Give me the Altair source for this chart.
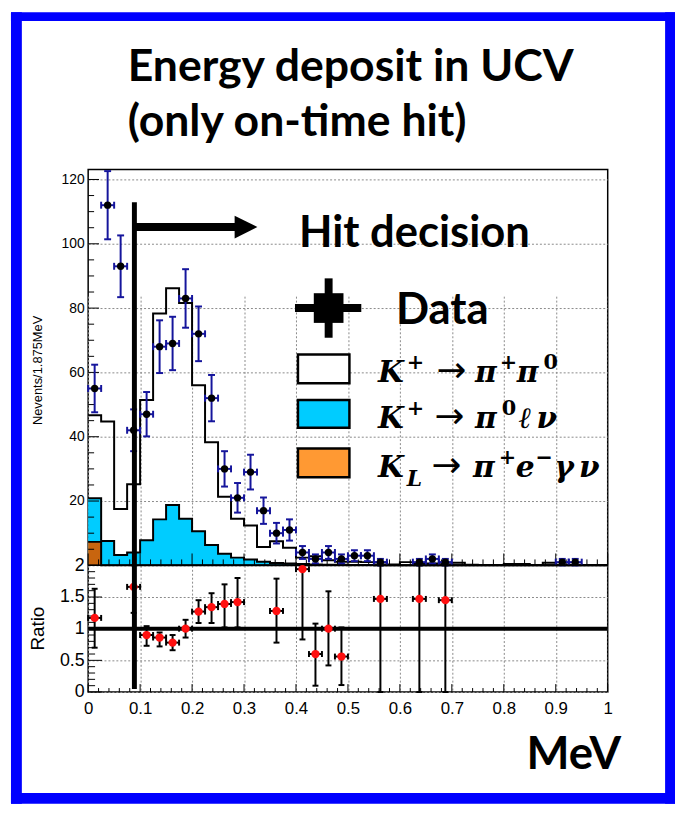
import altair as alt
import pandas as pd

# ---------------- data ----------------
N_BINS = 40
BIN_W = 0.025
bin_edges = [round(i * BIN_W, 4) for i in range(N_BINS + 1)]
bin_centers = [round((i + 0.5) * BIN_W, 4) for i in range(N_BINS)]

data_counts = [55, 112, 93, 42, 47, 68, 69, 83, 72, 52,
               30, 21, 29, 17, 10, 11, 4, 2, 4, 2,
               3, 3, 1, 0, 0, 1, 2, 1, 0, 0,
               0, 0, 0, 0, 0, 0, 1, 1, 0, 0]
data_errors = [7.4, 10.6, 9.6, 6.5, 6.9, 8.2, 8.3, 9.1, 8.5, 7.2,
               5.5, 4.6, 5.4, 4.1, 3.2, 3.3, 2.0, 1.4, 2.0, 1.4,
               1.7, 1.7, 1.0, 0, 0, 1.0, 1.4, 1.0, 0, 0,
               0, 0, 0, 0, 0, 0, 1.0, 1.0, 0, 0]

# stacked levels: total (K+ -> pi+ pi0 on top), cyan top (K+ -> pi0 l nu), orange (KL)
mc_total = [46.7, 44.7, 17.5, 25.2, 51.4, 78.3, 86.2, 81.6, 56.0, 38.3,
            21.3, 14.5, 12.4, 5.7, 7.5, 5.5, 2.4, 2.8, 1.6, 1.1,
            1.1, 1.0, 0.9, 0.3, 1.0, 0.6, 0.6, 0.8, 0.8, 0.2,
            0.1, 0.1, 0.4, 0.4, 0.1, 0.8, 0.2, 0.2, 0.1, 0.1]
mc_pi0lnu = [20.9, 7.6, 3.2, 4.0, 7.8, 14.3, 18.8, 14.5, 10.6, 6.3,
             3.6, 2.4, 1.8, 1.1, 0.7, 0.6, 0.4, 0.3, 0.2, 0.2,
             0.1, 0.1, 0, 0, 0, 0, 0, 0, 0, 0,
             0, 0, 0, 0, 0, 0, 0, 0, 0, 0]
mc_kl = [7.3] + [0] * 39

ratio_x = [0.0125, 0.0875, 0.1125, 0.1375, 0.1625, 0.1875, 0.2125, 0.2375, 0.2625,
           0.2875, 0.3625, 0.4125, 0.4375, 0.4625, 0.4875, 0.5625, 0.6375, 0.6875]
ratio_val = [1.17, 1.66, 0.90, 0.86, 0.78, 1.00, 1.27, 1.34, 1.39,
             1.42, 1.28, 1.94, 0.60, 1.00, 0.56, 1.47, 1.47, 1.45]
ratio_lo = [0.70, 1.25, 0.73, 0.72, 0.66, 0.86, 1.09, 1.09, 1.02,
            1.02, 0.78, 0.83, 0.10, 0.42, 0.11, 0.0, 0.0, 0.0]
ratio_hi = [1.63, 2.0, 1.04, 0.94, 0.90, 1.14, 1.45, 1.56, 1.70,
            1.80, 1.79, 2.0, 1.08, 1.59, 1.02, 2.0, 2.0, 2.0]

x_major = [0, 0.1, 0.2, 0.3, 0.4, 0.5, 0.6, 0.7, 0.8, 0.9, 1]
x_minor = [round(i * 0.02, 2) for i in range(51) if i % 5 != 0]
y_up_major = [0, 20, 40, 60, 80, 100, 120]
y_up_labels = [20, 40, 60, 80, 100, 120]
y_up_minor = [v for v in range(5, 123, 5) if v % 20 != 0]
y_r_major = [0, 0.5, 1, 1.5, 2]
y_r_minor = [round(i * 0.1, 1) for i in range(1, 20) if i % 5 != 0]

hit_cut = [0.089]
arrow_end = [0.283]
arrow_head = [0.3038]
arrow_level = [105.2]

# ---------------- styles ----------------
BLUE_ERR = "#15159c"
CYAN = "#00ccff"
ORANGE_PLOT = "#c8650f"
ORANGE_LEG = "#ff9933"
FRAME_BLUE = "#0000ff"
GRID = dict(grid=True, gridColor="#8a8a8a", gridDash=[2, 2], gridWidth=1)
LABEL_FONT = "Liberation Sans"
TITLE_FONT = "Lato"
MATH_FONT = "DejaVu Serif"

xscale = alt.Scale(domain=[0, 1], nice=False, zero=False)
xaxis = alt.Axis(values=x_major, format="~g", labelFontSize=17, labelFont=LABEL_FONT,
                 labelColor="black", ticks=False, domain=False, labelPadding=9,
                 labelFlush=False, labelOverlap=False, title=None, **GRID)
yscale_up = alt.Scale(domain=[0, 123.1], range=[400, 0], nice=False)
yaxis_up = alt.Axis(values=y_up_labels, labelFontSize=14, labelFont=LABEL_FONT,
                    labelColor="black", ticks=False, domain=False, labelPadding=4,
                    labelOverlap=False, title=None, orient="left", **GRID)
yscale_r = alt.Scale(domain=[0, 2], range=[528, 400], nice=False)
yaxis_r = alt.Axis(values=y_r_major, format="~g", labelFontSize=18, labelFont=LABEL_FONT,
                   labelColor="black", ticks=False, domain=False, labelPadding=4,
                   labelOverlap=False, labelFlush=False, title=None, orient="left", **GRID)


def X(f):
    return alt.X(f, type="quantitative", scale=xscale, axis=xaxis)


def YU(f):
    return alt.Y(f, type="quantitative", scale=yscale_up, axis=yaxis_up)


def YR(f):
    return alt.Y(f, type="quantitative", scale=yscale_r, axis=yaxis_r)


def step_df(vals):
    return pd.DataFrame({"x": bin_edges, "y": list(vals) + [vals[-1]]})


one = pd.DataFrame({"a": [0]})


def pix_text(txt, x, y, size, font=TITLE_FONT, weight="bold", style="normal",
             align="left", baseline="alphabetic", angle=0):
    return alt.Chart(one).mark_text(
        text=txt, font=font, fontSize=size, fontWeight=weight, fontStyle=style,
        align=align, baseline=baseline, angle=angle, color="black"
    ).encode(x=alt.value(x), y=alt.value(y))


def math(txt, x, y, size=30):
    return pix_text(txt, x, y, size, font=MATH_FONT, style="italic")


def sup(txt, x, y, size=21):
    return pix_text(txt, x, y, size, font=MATH_FONT, style="normal")


def arrow_txt(x, y):
    return pix_text("→", x, y, 36, font="DejaVu Sans", weight="normal")


def pix_rect(x1, x2, y1, y2, fill, stroke=None, sw=0):
    kw = dict(fill=fill, opacity=1)
    if stroke:
        kw.update(stroke=stroke, strokeWidth=sw)
    return alt.Chart(one).mark_rect(**kw).encode(
        x=alt.value(x1), x2=alt.value(x2), y=alt.value(y1), y2=alt.value(y2))


def pix_rule(x1, x2, y1, y2, w, color="black"):
    return alt.Chart(one).mark_rule(color=color, strokeWidth=w).encode(
        x=alt.value(x1), x2=alt.value(x2), y=alt.value(y1), y2=alt.value(y2))


# ---------------- upper pad ----------------
tot = step_df(mc_total)
cya = step_df(mc_pi0lnu)
org = step_df(mc_kl)

fills = [
    alt.Chart(cya).mark_area(interpolate="step-after", color=CYAN, opacity=1).encode(x=X("x"), y=YU("y")),
    alt.Chart(org).mark_area(interpolate="step-after", color=ORANGE_PLOT, opacity=1).encode(x=X("x"), y=YU("y")),
]
outlines = [
    alt.Chart(d).mark_line(interpolate="step-after", color="black", strokeWidth=2).encode(x=X("x"), y=YU("y"))
    for d in (tot, cya, org)
]

dp = pd.DataFrame({"x": bin_centers, "y": data_counts, "e": data_errors})
dp = dp[dp["y"] > 0].copy()
dp["lo"] = dp["y"] - dp["e"]
dp["hi"] = dp["y"] + dp["e"]
dp["xl"] = dp["x"] - BIN_W / 2
dp["xr"] = dp["x"] + BIN_W / 2

data_layers = [
    alt.Chart(dp).mark_rule(color=BLUE_ERR, strokeWidth=2).encode(x=X("x"), y=YU("lo"), y2="hi"),
    alt.Chart(dp).mark_rule(color=BLUE_ERR, strokeWidth=2).encode(x=X("xl"), x2="xr", y=YU("y")),
    alt.Chart(dp).mark_tick(orient="horizontal", size=7, thickness=2, color=BLUE_ERR, opacity=1).encode(x=X("x"), y=YU("lo")),
    alt.Chart(dp).mark_tick(orient="horizontal", size=7, thickness=2, color=BLUE_ERR, opacity=1).encode(x=X("x"), y=YU("hi")),
    alt.Chart(dp).mark_tick(orient="vertical", size=7, thickness=2, color=BLUE_ERR, opacity=1).encode(x=X("xl"), y=YU("y")),
    alt.Chart(dp).mark_tick(orient="vertical", size=7, thickness=2, color=BLUE_ERR, opacity=1).encode(x=X("xr"), y=YU("y")),
    alt.Chart(dp).mark_circle(size=55, color="black", opacity=1).encode(x=X("x"), y=YU("y")),
]

up_ticks = [
    alt.Chart(pd.DataFrame({"x": x_major})).mark_rule(color="black", strokeWidth=1).encode(
        x=X("x"), y=alt.value(400), y2=alt.value(388)),
    alt.Chart(pd.DataFrame({"x": x_minor})).mark_rule(color="black", strokeWidth=1).encode(
        x=X("x"), y=alt.value(400), y2=alt.value(394)),
    alt.Chart(pd.DataFrame({"y": y_up_major})).mark_rule(color="black", strokeWidth=1).encode(
        y=YU("y"), x=alt.value(0), x2=alt.value(11)),
    alt.Chart(pd.DataFrame({"y": y_up_minor})).mark_rule(color="black", strokeWidth=1).encode(
        y=YU("y"), x=alt.value(0), x2=alt.value(6)),
]

arrow_df = pd.DataFrame({"x0": hit_cut, "x1": arrow_end, "xh": arrow_head, "y": arrow_level})
arrow_layers = [
    alt.Chart(arrow_df).mark_rule(color="black", strokeWidth=8).encode(x=X("x0"), x2="x1", y=YU("y")),
    alt.Chart(arrow_df).mark_point(shape="M-1,-1L1,0L-1,1Z", size=529, filled=True,
                                   color="black", opacity=1).encode(x=X("xh"), y=YU("y")),
]

legend_layers = [
    # Data marker
    alt.Chart(one).mark_square(size=900, color="black", opacity=1).encode(x=alt.value(243), y=alt.value(140)),
    pix_rule(209, 276, 140, 140, 8),
    pix_rule(243, 243, 110, 170, 8),
    # boxes
    pix_rect(212, 264, 187, 216, "white", "black", 2.5),
    pix_rect(212, 264, 233, 261, CYAN, "black", 2.5),
    pix_rect(212, 264, 282, 311, ORANGE_LEG, "black", 2.5),
    # K+ -> pi+ pi0
    math("K", 293, 215), sup("+", 322, 202), arrow_txt(352, 215),
    math("π", 391, 215), sup("+", 416, 202), math("π", 433, 215), sup("0", 460, 202),
    # K+ -> pi0 l nu
    math("K", 293, 261), sup("+", 322, 248), arrow_txt(350, 261),
    math("π", 391, 261), sup("0", 418, 248), math("ℓ", 435, 261), math("ν", 453, 261),
    # KL -> pi+ e- gamma nu
    math("K", 293, 311), math("L", 322, 320, 22), arrow_txt(347, 311),
    math("π", 389, 311), sup("+", 415, 298), math("e", 432, 311), sup("−", 452, 298),
    math("γ", 471, 311), math("ν", 496, 311),
]

texts = [
    pix_text("Energy deposit in UCV", 40, -89, 45),
    pix_text("(only on-time hit)", 40, -34, 45),
    pix_text("Hit decision", 213, 78, 44),
    pix_text("Data", 311, 156, 44),
    pix_text("MeV", 443, 606, 46),
    pix_text("Nevents/1.875MeV", -51, 203, 13, font=LABEL_FONT, weight="normal",
             align="center", baseline="middle", angle=270),
    pix_text("Ratio", -51, 464, 19, font=LABEL_FONT, weight="normal",
             align="center", baseline="middle", angle=270),
]

border = [
    pix_rect(-78, -67, -159, 641, FRAME_BLUE),
    pix_rect(-78, 593, -159, -150, FRAME_BLUE),
    pix_rect(583, 593, -159, 641, FRAME_BLUE),
    pix_rect(-78, 593, 630, 641, FRAME_BLUE),
]

upper = alt.layer(*fills, *outlines, *up_ticks, *data_layers, *arrow_layers,
                  *legend_layers, *texts, *border,
                  pix_rule(0, 525, 400, 400, 1.5))

# ---------------- ratio pad ----------------
rp = pd.DataFrame({"x": ratio_x, "y": ratio_val, "lo": ratio_lo, "hi": ratio_hi})
rp["xl"] = rp["x"] - BIN_W / 2
rp["xr"] = rp["x"] + BIN_W / 2
ref_df = pd.DataFrame({"x0": [0], "x1": [1], "y": [1]})
hit_df = pd.DataFrame({"x": hit_cut})

ratio_layers = [
    alt.Chart(pd.DataFrame({"x": x_major})).mark_rule(color="black", strokeWidth=1).encode(
        x=X("x"), y=alt.value(528), y2=alt.value(520)),
    alt.Chart(pd.DataFrame({"x": x_minor})).mark_rule(color="black", strokeWidth=1).encode(
        x=X("x"), y=alt.value(528), y2=alt.value(524)),
    alt.Chart(pd.DataFrame({"y": y_r_major})).mark_rule(color="black", strokeWidth=1).encode(
        y=YR("y"), x=alt.value(0), x2=alt.value(14)),
    alt.Chart(pd.DataFrame({"y": y_r_minor})).mark_rule(color="black", strokeWidth=1).encode(
        y=YR("y"), x=alt.value(0), x2=alt.value(7)),
    alt.Chart(ref_df).mark_rule(color="black", strokeWidth=4).encode(x=X("x0"), x2="x1", y=YR("y")),
    alt.Chart(rp).mark_rule(color="black", strokeWidth=2).encode(x=X("x"), y=YR("lo"), y2="hi"),
    alt.Chart(rp).mark_rule(color="black", strokeWidth=2).encode(x=X("xl"), x2="xr", y=YR("y")),
    alt.Chart(rp).mark_tick(orient="horizontal", size=6, thickness=2, color="black", opacity=1).encode(x=X("x"), y=YR("lo")),
    alt.Chart(rp).mark_tick(orient="horizontal", size=6, thickness=2, color="black", opacity=1).encode(x=X("x"), y=YR("hi")),
    alt.Chart(rp).mark_tick(orient="vertical", size=6, thickness=2, color="black", opacity=1).encode(x=X("xl"), y=YR("y")),
    alt.Chart(rp).mark_tick(orient="vertical", size=6, thickness=2, color="black", opacity=1).encode(x=X("xr"), y=YR("y")),
    alt.Chart(rp).mark_circle(size=70, color="#ff1010", opacity=1).encode(x=X("x"), y=YR("y")),
    alt.Chart(hit_df).mark_rule(color="black", strokeWidth=5).encode(x=X("x"), y=alt.value(33), y2=alt.value(525)),
]
ratio = alt.layer(*ratio_layers)

chart = alt.layer(upper, ratio).resolve_scale(y="independent").properties(
    width=525, height=528,
    padding={"left": 3, "top": 0, "right": 0, "bottom": 0},
    background="white",
).configure_view(stroke="black", strokeWidth=1.5)

chart.save("out.html", embed_options={"renderer": "svg", "actions": False})
